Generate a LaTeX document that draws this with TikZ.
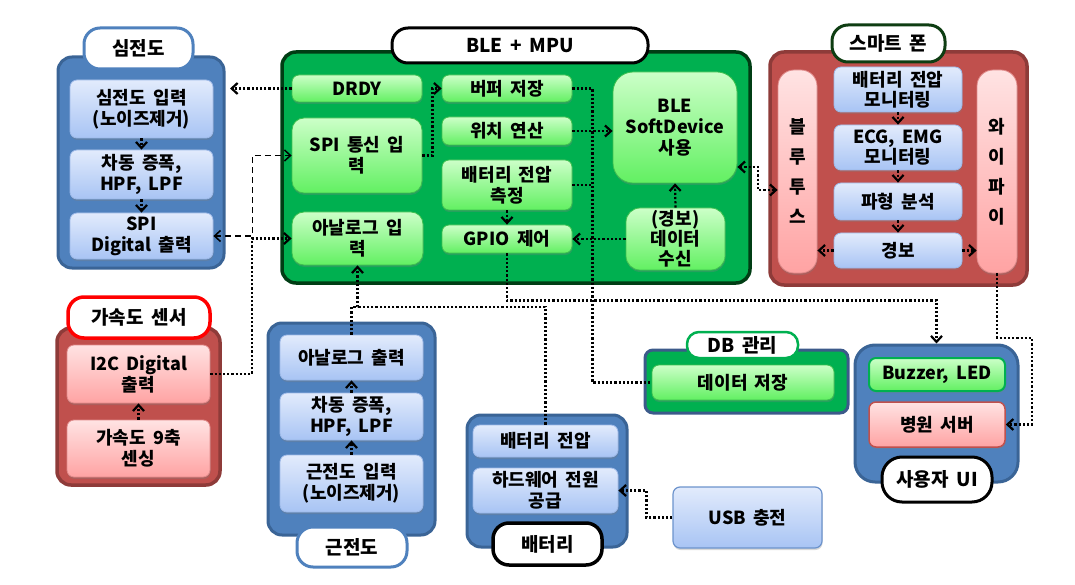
\documentclass[tikz,border=0pt]{standalone}
\usepackage{fontspec}
\setmainfont{Noto Sans CJK KR}[WordSpace=1.8]
\usetikzlibrary{arrows.meta,shadows}
\definecolor{panB}{HTML}{4F81BD}
\definecolor{panBd}{HTML}{3A6496}
\definecolor{panG}{HTML}{00B050}
\definecolor{panGd}{HTML}{003D14}
\definecolor{panR}{HTML}{C0504D}
\definecolor{panRd}{HTML}{8E3B39}
\definecolor{inBt}{HTML}{E2EBFC}
\definecolor{inBb}{HTML}{A8C4F4}
\definecolor{inBd}{HTML}{9DB9E8}
\definecolor{inGt}{HTML}{CCFFC8}
\definecolor{inGb}{HTML}{62F062}
\definecolor{inGd}{HTML}{3FC04F}
\definecolor{inRt}{HTML}{FFE3E3}
\definecolor{inRb}{HTML}{FFA3A3}
\definecolor{inRd}{HTML}{E08A8A}
\definecolor{tabG}{HTML}{0E3D12}
\definecolor{dbd}{HTML}{3C5A8A}
\definecolor{usbd}{HTML}{6C93CC}
\tikzset{
  every node/.style={font=\fontsize{18}{21}\selectfont\bfseries, inner sep=0pt, align=center},
  pB/.style={fill=panB, draw=panBd, line width=3pt, rounded corners=14pt},
  pG/.style={fill=panG, draw=panGd, line width=3.5pt, rounded corners=14pt},
  pR/.style={fill=panR, draw=panRd, line width=3.5pt, rounded corners=14pt},
  bx/.style={rounded corners=7pt, line width=0.8pt,
    drop shadow={shadow xshift=0.5pt, shadow yshift=-2pt, opacity=0.3}},
  iB/.style={bx, top color=inBt, bottom color=inBb, draw=inBd},
  iG/.style={bx, top color=inGt, bottom color=inGb, draw=inGd},
  iR/.style={bx, top color=inRt, bottom color=inRb, draw=inRd},
  tabbox/.style={fill=white, line width=3pt, rounded corners=16pt, font=\fontsize{19}{21}\selectfont\bfseries},
  tip/.tip={Straight Barb[length=6pt,width=11pt]},
  cline/.style={line width=2.2pt, dash pattern=on 2.2pt off 2pt},
  conn/.style={cline, -tip},
  bconn/.style={cline, tip-tip},
  dconn/.style={line width=1.5pt, dash pattern=on 6pt off 4pt, tip-tip},
}
\begin{document}
\begin{tikzpicture}[x=1pt,y=-1pt]
\useasboundingbox (0,0) rectangle (1075,585);
% ---------- ECG ----------
\node[pB, minimum width=166pt, minimum height=211pt] (ecgp) at (141,162.5) {};
\node[tabbox, draw=panB, minimum width=109pt, minimum height=41pt] (ecgt) at (138.5,48.5) {심전도};
\node[iB, minimum width=143pt, minimum height=58pt] (e1) at (141.5,109) {심전도 입력\\(노이즈제거)};
\node[iB, minimum width=143pt, minimum height=49pt] (e2) at (141.5,174.5) {차동 증폭,\\HPF, LPF};
\node[iB, minimum width=143pt, minimum height=46pt] (e3) at (141.5,236) {SPI\\Digital 출력};
% ---------- BLE + MPU ----------
\node[pG, minimum width=468pt, minimum height=231pt] (blep) at (516,167.5) {};
\node[tabbox, draw=black, minimum width=256pt, minimum height=35pt] (blet) at (520,45.5) {BLE + MPU};
\node[iG, minimum width=130pt, minimum height=27pt] (drdy) at (357,88.5) {DRDY};
\node[iG, minimum width=130pt, minimum height=75pt, rounded corners=12pt] (spi) at (357,155.5) {SPI 통신 입\\력};
\node[iG, minimum width=131pt, minimum height=53pt, rounded corners=12pt] (ana) at (357.5,238.5) {아날로그 입\\력};
\node[iG, minimum width=130pt, minimum height=27pt] (buf) at (507,88.5) {버퍼 저장};
\node[iG, minimum width=130pt, minimum height=28pt] (pos) at (507,131) {위치 연산};
\node[iG, minimum width=130pt, minimum height=50pt] (batm) at (507,185) {배터리 전압\\측정};
\node[iG, minimum width=130pt, minimum height=28pt] (gpio) at (507,239) {GPIO 제어};
\node[iG, rounded corners=20pt, minimum width=124pt, minimum height=111pt] (soft) at (675,127.5) {BLE\\SoftDevice\\사용};
\node[iG, rounded corners=14pt, minimum width=99pt, minimum height=62pt, font=\fontsize{18}{20}\selectfont\bfseries] (alarm) at (675.5,239) {(경보)\\데이터\\수신};
% ---------- Smartphone ----------
\node[pR, minimum width=257pt, minimum height=233pt] (smp) at (898.5,168.5) {};
\node[tabbox, draw=tabG, minimum width=113pt, minimum height=37pt] (smt) at (888.5,43.5) {스마트 폰};
\node[iR, rounded corners=16pt, minimum width=39pt, minimum height=203pt, font=\fontsize{18}{30}\selectfont\bfseries] (bt) at (797.5,171.5) {블\\루\\투\\스};
\node[iR, rounded corners=16pt, minimum width=40pt, minimum height=203pt, font=\fontsize{18}{30}\selectfont\bfseries] (wifi) at (997,171.5) {와\\이\\파\\이};
\node[iB, minimum width=128pt, minimum height=45pt, font=\fontsize{18}{20}\selectfont\bfseries] (s1) at (898,89.5) {배터리 전압\\모니터링};
\node[iB, minimum width=128pt, minimum height=45pt, font=\fontsize{18}{20}\selectfont\bfseries] (s2) at (898,147.5) {ECG, EMG\\모니터링};
\node[iB, minimum width=128pt, minimum height=37pt] (s3) at (898,201.5) {파형 분석};
\node[iB, minimum width=128pt, minimum height=35pt] (s4) at (898,250.5) {경보};
% ---------- Accelerometer ----------
\node[pR, minimum width=163pt, minimum height=157pt] (accp) at (138.5,406.5) {};
\node[tabbox, draw=red, line width=3.5pt, minimum width=142pt, minimum height=41pt] (acct) at (139,317.5) {가속도 센서};
\node[iR, minimum width=143pt, minimum height=58pt] (a1) at (138.5,374) {I2C Digital\\출력};
\node[iR, minimum width=143pt, minimum height=57pt] (a2) at (138.5,448.5) {가속도 9축\\센싱};
% ---------- EMG ----------
\node[pB, minimum width=167pt, minimum height=212pt] (emgp) at (351.5,429) {};
\node[tabbox, draw=panB, minimum width=110pt, minimum height=40pt] (emgt) at (352,547) {근전도};
\node[iB, minimum width=143pt, minimum height=45pt] (m1) at (351.5,357.5) {아날로그 출력};
\node[iB, minimum width=143pt, minimum height=47pt] (m2) at (351.5,416.5) {차동 증폭,\\HPF, LPF};
\node[iB, minimum width=143pt, minimum height=57pt] (m3) at (351.5,483.5) {근전도 입력\\(노이즈제거)};
% ---------- Battery ----------
\node[pB, minimum width=160pt, minimum height=132pt] (batp) at (547,481) {};
\node[tabbox, draw=black, line width=3.5pt, minimum width=109pt, minimum height=42pt] (batt) at (547.5,544) {배터리};
\node[iB, minimum width=145pt, minimum height=32pt] (b1) at (545.5,441) {배터리 전압};
\node[iB, minimum width=145pt, minimum height=45pt] (b2) at (545.5,490.5) {하드웨어 전원\\공급};
% ---------- USB ----------
\node[iB, draw=usbd, line width=1.2pt, minimum width=149pt, minimum height=61pt] (usb) at (747.5,517.5) {USB 충전};
% ---------- DB ----------
\node[pG, draw=dbd, line width=3pt, rounded corners=8pt, minimum width=203pt, minimum height=63pt] (dbp) at (746.5,381.5) {};
\node[tabbox, draw=panG, line width=2.5pt, rounded corners=12pt, minimum width=111pt, minimum height=26pt] (dbt) at (742.5,345) {DB 관리};
\node[iG, minimum width=182pt, minimum height=35pt] (d1) at (743,382.5) {데이터 저장};
% ---------- User UI ----------
\node[pB, rounded corners=20pt, minimum width=163pt, minimum height=137pt] (uip) at (936.5,413.5) {};
\node[tabbox, draw=black, minimum width=110pt, minimum height=45pt, rounded corners=20pt] (uit) at (937,479.5) {사용자 UI};
\node[iG, draw=panG, line width=2pt, minimum width=136pt, minimum height=33pt] (u1) at (937,374.5) {Buzzer, LED};
\node[iR, draw=panR, line width=1.5pt, minimum width=136pt, minimum height=45pt] (u2) at (937,424.5) {병원 서버};
% ---------- connectors ----------
\coordinate (ecgin) at (230,88.5);
\coordinate (j1) at (357.5,307);
\draw[conn] (drdy.west) -- (ecgin);
\draw[dconn] (e3.east) -- ++(39,0) |- (spi.west);
\draw[conn] (a1.east) -- ++(41.5,0) |- (ana.west);
\draw[conn] (m1.north) |- (j1) -- (ana.south);
\draw[cline] (b1.north) |- (j1);
\draw[conn] (gpio.south) -- ++(0,47) -| (uip.north);
\draw[cline] (buf.east) -- ++(20,0) |- (d1.west);
\draw[conn] (pos.east) -- (pos.east -| soft.west);
\draw[cline] (batm.east) -- ++(20,0);
\draw[conn] (alarm.west) -- (gpio.east);
\draw[conn] (alarm.north) -- (soft.south);
\draw[conn] (batm.south) -- (gpio.north);
\draw[conn] (spi.east) -- ++(10,0) |- (buf.west);
\draw[bconn] (soft.east |- 0,167) -- (758,167) |- (bt.west |- 0,190);
\draw[conn] (s1.south) -- (s2.north);
\draw[conn] (s2.south) -- (s3.north);
\draw[conn] (s3.south) -- (s4.north);
\draw[conn] (s4.west) -- (bt.east |- s4.west);
\draw[conn] (s4.east) -- (wifi.west |- s4.east);
\draw[conn] (wifi.south) |- (1032,338) |- (u2.east);
\draw[conn] (usb.west) -- ++(-26,0) |- (b2.east);
\draw[conn] (e1.south) -- (e2.north);
\draw[conn] (e2.south) -- (e3.north);
\draw[conn] (m3.north) -- (m2.south);
\draw[conn] (m2.north) -- (m1.south);
\draw[conn] (a2.north) -- (a1.south);
\end{tikzpicture}
\end{document}
